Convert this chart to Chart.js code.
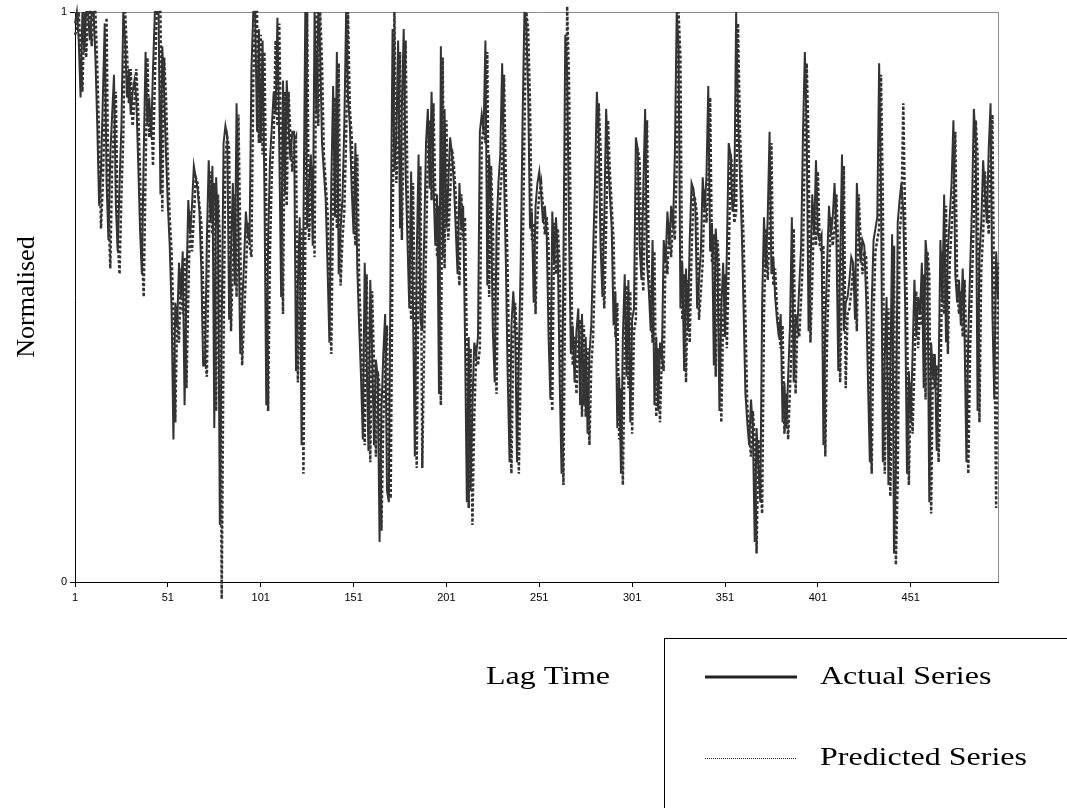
<!DOCTYPE html>
<html>
<head>
<meta charset="utf-8">
<script src="https://cdn.jsdelivr.net/npm/chart.js"></script>
<style>
  html, body { margin: 0; padding: 0; background: #fff; }
  #wrap { width: 1067px; height: 808px; }
</style>
</head>
<body>
<div id="wrap"><canvas id="lagChart"></canvas></div>
<script>
// values, one per lag step (1..498)
const actualSeries = [
  0.98,1.00,0.95,0.85,1.00,0.93,1.00,1.00,0.95,1.00,
  1.00,0.92,0.80,0.66,0.72,0.85,0.98,0.70,0.60,0.75,
  0.82,0.89,0.66,0.58,0.70,0.80,1.00,0.95,0.85,0.90,
  0.82,0.86,0.88,0.85,0.74,0.62,0.54,0.75,0.93,0.80,
  0.85,0.78,0.90,1.00,1.00,1.00,0.68,0.94,0.86,0.75,
  0.66,0.59,0.48,0.25,0.49,0.45,0.56,0.50,0.58,0.31,
  0.52,0.67,0.61,0.66,0.73,0.71,0.69,0.65,0.55,0.38,
  0.38,0.60,0.74,0.63,0.73,0.27,0.71,0.62,0.10,0.45,
  0.77,0.80,0.78,0.46,0.58,0.70,0.52,0.84,0.62,0.40,
  0.48,0.56,0.65,0.61,0.60,0.90,1.00,1.00,0.79,0.97,
  0.77,0.95,0.69,0.31,0.60,0.74,0.80,0.86,0.82,0.99,
  0.76,0.50,0.88,0.68,0.88,0.80,0.74,0.79,0.79,0.37,
  0.52,0.64,0.24,0.62,1.00,0.62,0.70,0.75,0.59,1.00,
  0.82,1.00,0.93,0.77,0.72,0.67,0.55,0.42,0.70,0.87,
  0.64,0.93,0.54,0.62,0.67,0.80,1.00,0.85,0.80,0.69,
  0.61,0.77,0.55,0.45,0.36,0.25,0.56,0.40,0.23,0.53,
  0.40,0.24,0.39,0.36,0.07,0.30,0.40,0.47,0.16,0.14,
  0.60,0.97,0.72,0.78,0.95,0.62,0.83,0.97,0.72,0.60,
  0.48,0.72,0.48,0.22,0.57,0.75,0.46,0.44,0.60,0.77,
  0.83,0.69,0.86,0.70,0.59,0.68,0.33,0.94,0.57,0.83,
  0.62,0.70,0.78,0.75,0.70,0.62,0.54,0.70,0.62,0.66,
  0.43,0.14,0.43,0.16,0.31,0.42,0.40,0.43,0.79,0.82,
  0.79,0.95,0.52,0.75,0.65,0.44,0.35,0.62,0.70,0.75,
  0.91,0.72,0.56,0.36,0.21,0.45,0.51,0.45,0.21,0.40,
  0.56,0.81,1.00,0.98,0.86,0.62,0.65,0.49,0.66,0.70,
  0.72,0.68,0.63,0.66,0.61,0.43,0.32,0.65,0.56,0.64,
  0.57,0.35,0.19,0.56,0.96,0.90,0.62,0.40,0.45,0.35,
  0.44,0.48,0.31,0.47,0.31,0.43,0.26,0.40,0.45,0.58,
  0.70,0.86,0.78,0.59,0.50,0.64,0.83,0.74,0.68,0.62,
  0.45,0.51,0.27,0.36,0.19,0.43,0.54,0.36,0.53,0.28,
  0.46,0.48,0.78,0.76,0.59,0.53,0.69,0.83,0.56,0.51,
  0.44,0.60,0.31,0.43,0.30,0.42,0.39,0.60,0.56,0.65,
  0.59,0.66,0.62,0.75,1.00,0.94,0.48,0.56,0.37,0.55,
  0.44,0.60,0.70,0.69,0.66,0.48,0.53,0.58,0.71,0.65,
  0.71,0.87,0.58,0.63,0.38,0.62,0.56,0.30,0.48,0.56,
  0.43,0.58,0.77,0.75,0.65,0.67,1.00,0.82,0.72,0.62,
  0.48,0.33,0.28,0.24,0.32,0.27,0.07,0.27,0.20,0.14,
  0.49,0.64,0.55,0.64,0.79,0.54,0.57,0.50,0.46,0.43,
  0.47,0.28,0.35,0.27,0.36,0.45,0.64,0.35,0.47,0.45,
  0.52,0.59,0.79,0.93,0.79,0.44,0.55,0.68,0.61,0.74,
  0.61,0.60,0.61,0.24,0.45,0.56,0.66,0.61,0.64,0.70,
  0.60,0.37,0.56,0.75,0.44,0.49,0.50,0.53,0.57,0.56,
  0.46,0.70,0.62,0.56,0.60,0.59,0.50,0.35,0.21,0.49,
  0.60,0.62,0.64,0.91,0.69,0.21,0.39,0.50,0.17,0.36,
  0.61,0.05,0.20,0.63,0.67,0.70,0.65,0.49,0.19,0.37,
  0.28,0.40,0.53,0.43,0.50,0.47,0.56,0.34,0.60,0.56,
  0.14,0.42,0.36,0.40,0.23,0.36,0.60,0.49,0.68,0.42,
  0.58,0.64,0.70,0.81,0.54,0.49,0.53,0.45,0.55,0.43,
  0.21,0.43,0.55,0.66,0.83,0.77,0.30,0.57,0.63,0.74,
  0.68,0.63,0.76,0.84,0.47,0.32,0.58,0.50
];

const predictedSeries = [
  0.96,0.97,1.00,0.93,0.86,1.00,0.92,1.00,1.00,0.94,
  1.00,1.00,0.90,0.78,0.62,0.70,0.83,0.99,0.66,0.55,
  0.73,0.80,0.86,0.60,0.54,0.68,0.78,1.00,0.93,0.84,
  0.90,0.80,0.84,0.90,0.83,0.72,0.58,0.50,0.72,0.92,
  0.78,0.83,0.73,0.88,1.00,1.00,1.00,0.65,0.92,0.85,
  0.73,0.64,0.58,0.46,0.28,0.47,0.42,0.55,0.47,0.57,
  0.34,0.50,0.65,0.58,0.64,0.71,0.70,0.66,0.63,0.52,
  0.40,0.36,0.58,0.72,0.61,0.70,0.30,0.68,0.60,-0.03,
  0.42,0.75,0.78,0.76,0.44,0.56,0.68,0.50,0.82,0.60,
  0.38,0.46,0.54,0.63,0.59,0.57,0.88,1.00,1.00,0.77,
  0.96,0.75,0.93,0.66,0.30,0.58,0.72,0.78,0.95,0.80,
  0.98,0.74,0.47,0.86,0.66,0.86,0.78,0.72,0.77,0.78,
  0.35,0.50,0.62,0.19,0.60,1.00,0.60,0.68,0.73,0.57,
  1.00,0.80,1.00,0.91,0.75,0.70,0.65,0.52,0.40,0.68,
  0.85,0.62,0.91,0.52,0.60,0.65,0.78,1.00,0.83,0.78,
  0.67,0.59,0.75,0.53,0.43,0.34,0.24,0.54,0.38,0.21,
  0.51,0.38,0.22,0.37,0.34,0.09,0.28,0.38,0.45,0.15,
  0.15,0.58,1.00,0.70,0.76,0.93,0.60,0.81,0.95,0.70,
  0.58,0.46,0.70,0.46,0.20,0.55,0.73,0.20,0.42,0.58,
  0.75,0.81,0.67,0.84,0.68,0.57,0.66,0.31,0.92,0.55,
  0.81,0.60,0.68,0.76,0.73,0.68,0.60,0.52,0.68,0.60,
  0.64,0.41,0.13,0.41,0.10,0.29,0.40,0.38,0.41,0.77,
  0.80,0.77,0.93,0.50,0.73,0.63,0.42,0.33,0.60,0.68,
  0.73,0.89,0.70,0.54,0.34,0.19,0.43,0.49,0.43,0.19,
  0.38,0.54,0.79,1.00,0.97,0.84,0.60,0.63,0.47,0.64,
  0.68,0.70,0.66,0.61,0.64,0.59,0.41,0.30,0.63,0.54,
  0.62,0.55,0.33,0.17,0.54,1.01,0.88,0.60,0.38,0.43,
  0.33,0.42,0.46,0.29,0.45,0.29,0.41,0.24,0.38,0.43,
  0.56,0.68,0.84,0.76,0.57,0.48,0.62,0.81,0.72,0.66,
  0.60,0.43,0.49,0.25,0.34,0.17,0.41,0.52,0.34,0.51,
  0.26,0.44,0.46,0.76,0.74,0.57,0.51,0.67,0.81,0.54,
  0.49,0.42,0.58,0.29,0.41,0.28,0.40,0.37,0.58,0.54,
  0.63,0.57,0.64,0.60,0.73,1.00,0.92,0.46,0.54,0.35,
  0.53,0.42,0.58,0.68,0.67,0.64,0.46,0.51,0.56,0.69,
  0.63,0.69,0.85,0.56,0.61,0.36,0.60,0.54,0.28,0.46,
  0.54,0.41,0.56,0.75,0.73,0.63,0.65,0.98,0.80,0.70,
  0.60,0.46,0.31,0.26,0.22,0.30,0.25,0.05,0.25,0.18,
  0.12,0.47,0.62,0.53,0.62,0.77,0.52,0.55,0.48,0.44,
  0.41,0.45,0.26,0.33,0.25,0.34,0.43,0.62,0.33,0.45,
  0.43,0.50,0.57,0.77,0.91,0.77,0.42,0.53,0.66,0.59,
  0.72,0.59,0.58,0.59,0.22,0.43,0.54,0.64,0.59,0.62,
  0.68,0.58,0.35,0.54,0.73,0.34,0.47,0.48,0.51,0.55,
  0.54,0.44,0.68,0.60,0.54,0.58,0.57,0.48,0.33,0.19,
  0.47,0.58,0.60,0.62,0.89,0.67,0.19,0.37,0.48,0.15,
  0.34,0.59,0.03,0.18,0.61,0.65,0.84,0.63,0.47,0.17,
  0.35,0.26,0.38,0.51,0.41,0.48,0.45,0.54,0.32,0.58,
  0.54,0.12,0.40,0.34,0.38,0.21,0.34,0.58,0.47,0.66,
  0.40,0.56,0.62,0.68,0.79,0.52,0.47,0.51,0.43,0.53,
  0.41,0.19,0.41,0.53,0.64,0.81,0.75,0.28,0.55,0.61,
  0.72,0.66,0.61,0.74,0.82,0.45,0.13,0.56
];

const tickLabels = ["1", "51", "101", "151", "201", "251", "301", "351", "401", "451"];

const lagTimes = [];
for (let i = 1; i <= actualSeries.length; i++) {
  lagTimes.push(String(i));
}

const serif = "'Liberation Serif', 'Times New Roman', serif";
const sans = "'Liberation Sans', Arial, sans-serif";

// the original picture is stretched sideways, so flat text is drawn wider
function wideText(ctx, text, x, y) {
  ctx.save();
  ctx.translate(x, y);
  ctx.scale(1.23, 1);
  ctx.fillText(text, 0, 0);
  ctx.restore();
}

// x title, top/right frame and the boxed legend below the plot
const extras = {
  id: "extras",
  beforeDatasetsDraw(chart) {
    const { ctx, chartArea } = chart;
    ctx.save();
    ctx.strokeStyle = "#8c8c8c";
    ctx.lineWidth = 1;
    ctx.beginPath();
    ctx.moveTo(chartArea.left, chartArea.top + 0.5);
    ctx.lineTo(chartArea.right + 0.5, chartArea.top + 0.5);
    ctx.lineTo(chartArea.right + 0.5, chartArea.bottom);
    ctx.stroke();
    ctx.restore();
  },
  afterDraw(chart) {
    const ctx = chart.ctx;
    const sets = chart.data.datasets;
    ctx.save();
    ctx.fillStyle = "#000";
    ctx.font = "26px " + serif;
    ctx.textBaseline = "middle";
    ctx.textAlign = "center";
    wideText(ctx, "Lag Time", 548, 677);

    ctx.strokeStyle = "#000";
    ctx.lineWidth = 1;
    ctx.strokeRect(664.5, 638.5, 500, 300);

    ctx.textAlign = "left";
    ctx.lineWidth = 3;
    ctx.strokeStyle = "#222";
    ctx.beginPath();
    ctx.moveTo(705, 677);
    ctx.lineTo(797, 677);
    ctx.stroke();
    wideText(ctx, sets[0].label, 820, 677);

    ctx.lineWidth = 1;
    ctx.setLineDash([1, 1]);
    ctx.beginPath();
    ctx.moveTo(705, 758.5);
    ctx.lineTo(797, 758.5);
    ctx.stroke();
    ctx.setLineDash([]);
    wideText(ctx, sets[1].label, 820, 758);
    ctx.restore();
  }
};

new Chart(document.getElementById("lagChart"), {
  type: "line",
  data: {
    labels: lagTimes,
    datasets: [
      {
        label: "Actual Series",
        data: actualSeries,
        borderColor: "#333",
        borderWidth: 2,
        pointRadius: 0,
        tension: 0,
        clip: false,
      },
      {
        label: "Predicted Series",
        data: predictedSeries,
        borderColor: "#333",
        borderWidth: 2.5,
        borderDash: [3, 2],
        pointRadius: 0,
        tension: 0,
        clip: false,
      },
    ],
  },
  options: {
    responsive: true,
    maintainAspectRatio: false,
    animation: false,
    layout: {
      padding: { top: 12, right: 69, left: 0, bottom: 0 },
    },
    scales: {
      x: {
        afterFit: (scale) => { scale.height = 226; },
        grid: {
          display: true,
          drawOnChartArea: false,
          drawTicks: true,
          tickLength: 5,
          color: "#000",
        },
        border: { display: true, color: "#000", width: 1 },
        ticks: {
          autoSkip: false,
          maxRotation: 0,
          padding: 4,
          color: "#000",
          font: { family: sans, size: 11 },
          callback: function (value, index) {
            const lab = lagTimes[index];
            return tickLabels.includes(lab) ? lab : null;
          },
        },
      },
      y: {
        min: 0,
        max: 1,
        afterFit: (scale) => { scale.width = 75; },
        grid: {
          display: true,
          drawOnChartArea: false,
          drawTicks: true,
          tickLength: 5,
          color: "#000",
        },
        border: { display: true, color: "#000", width: 1 },
        ticks: {
          stepSize: 1,
          padding: 3,
          color: "#000",
          font: { family: sans, size: 11 },
        },
        title: {
          display: true,
          text: "Normalised",
          color: "#000",
          font: { family: serif, size: 26 },
          padding: { top: 12, bottom: 0 },
        },
      },
    },
    plugins: {
      legend: { display: false },
      tooltip: { enabled: false },
    },
  },
  plugins: [extras],
});
</script>
</body>
</html>
